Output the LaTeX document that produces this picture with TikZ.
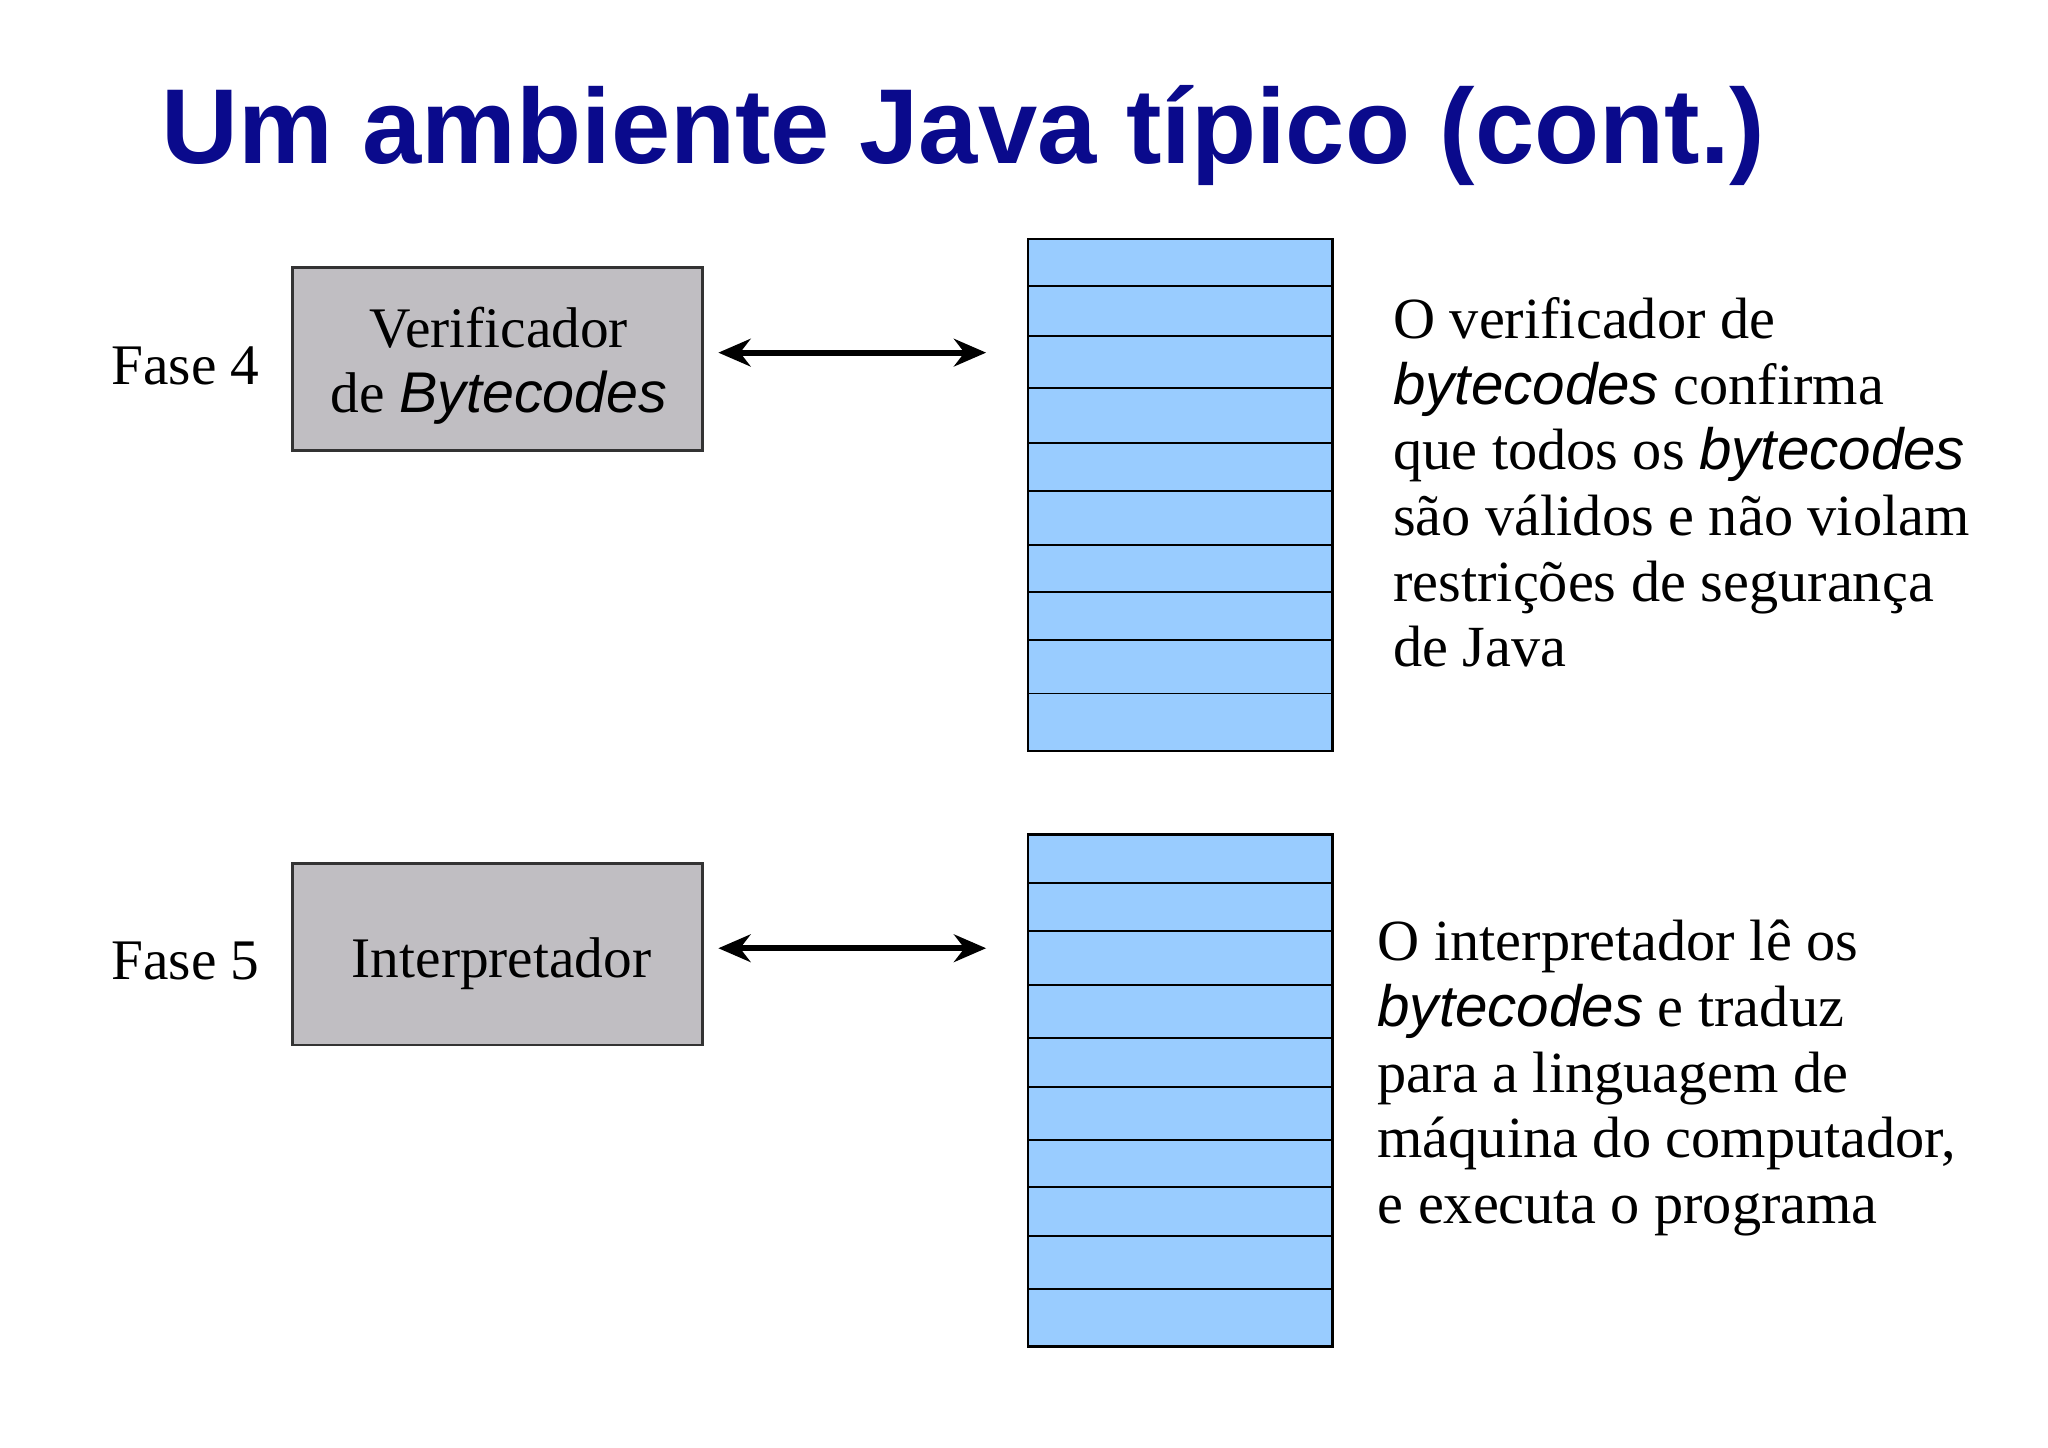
\documentclass[tikz,border=0pt]{standalone}
\usepackage{fontspec}
\setmainfont{Liberation Serif}
\setsansfont{Liberation Sans}
\usetikzlibrary{arrows.meta}
\definecolor{ttl}{HTML}{0A0A8C}
\definecolor{boxg}{HTML}{C0BEC2}
\definecolor{stk}{HTML}{99CCFF}
\newcommand{\bc}{\textsf{\itshape bytecodes}}
\newcommand{\Bc}{\textsf{\itshape Bytecodes}}
\begin{document}
\begin{tikzpicture}[x=0.1mm,y=-0.1mm,
  gbox/.style={draw=black!80,fill=boxg,line width=0.6pt},
  txt/.style={font=\fontsize{12.5pt}{14.3pt}\selectfont,inner sep=0pt},
  dbl/.style={{Stealth[length=7pt,width=6pt]}-{Stealth[length=7pt,width=6pt]},line width=1.3pt}]
\useasboundingbox (0,0) rectangle (1568,1108);
\node[anchor=base west,inner sep=0pt,text=ttl,font=\fontsize{23.2pt}{28pt}\selectfont\sffamily\bfseries] (title) at (123,125) {Um ambiente Java típico (cont.)};
% phase 4
\node[txt,anchor=center] (f4) at (142,280) {Fase 4};
\draw[gbox] (224,205) rectangle (538,345);
\node[txt,align=center] (v) at (382,280) {Verificador\\de \Bc};
\coordinate (a1) at (550,270); \coordinate (b1) at (755,270);
\draw[dbl] (a1) -- (b1);
\draw[fill=stk,draw=black,line width=0.6pt] (787,183) rectangle (1020,575);
\foreach \y in {219,257,297,339,376,417,453,490,531} \draw[line width=0.4pt] (787,\y) -- (1020,\y);
\node[txt,anchor=north west,align=left,font=\fontsize{12.7pt}{14.3pt}\selectfont] (t1) at (1066,227) {O verificador de\\\bc{} confirma\\que todos os \bc\\são válidos e não violam\\restrições de segurança\\de Java};
% phase 5
\node[txt,anchor=center] (f5) at (142,736) {Fase 5};
\draw[gbox] (224,661) rectangle (538,800);
\node[txt] (ip) at (384,738) {Interpretador};
\coordinate (a2) at (550,726); \coordinate (b2) at (755,726);
\draw[dbl] (a2) -- (b2);
\draw[fill=stk,draw=black,line width=0.6pt] (787,639) rectangle (1020,1031);
\foreach \y in {676,713,754,795,832,873,909,946,987} \draw[line width=0.4pt] (787,\y) -- (1020,\y);
\node[txt,anchor=north west,align=left,font=\fontsize{12.7pt}{14.3pt}\selectfont] (t2) at (1054,704) {O interpretador lê os\\\bc{} e traduz\\para a linguagem de\\máquina do computador,\\e executa o programa};
\end{tikzpicture}
\end{document}
